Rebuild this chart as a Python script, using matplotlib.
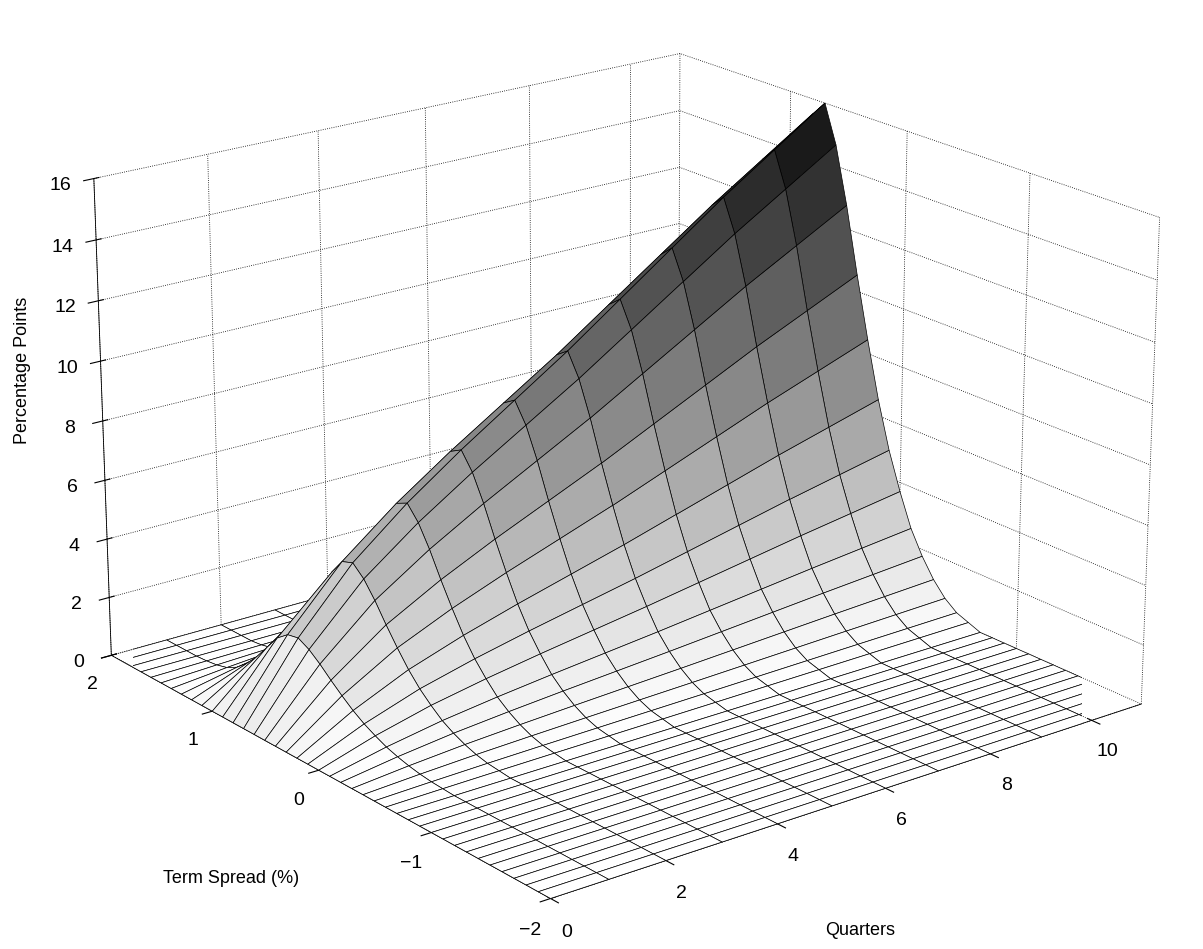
import numpy as np
import matplotlib
matplotlib.use("Agg")
import matplotlib.pyplot as plt

plt.rcParams['font.family'] = ['Liberation Sans', 'DejaVu Sans']

# axis grids
quarters = np.arange(0, 12)
spread = np.round(np.linspace(-2, 2, 41), 2)

# peak response (percentage points) by quarter, read from ridge
peak_by_quarter = [0, 2.5, 4.5, 6.0, 7.3, 8.5, 9.7, 11.0, 12.3, 13.6, 14.8, 16.0]

# relative shape across term spread (-2 .. 2, step 0.1)
spread_profile = ([0] * 14 +
                  [0.01, 0.02, 0.04, 0.07, 0.11, 0.16, 0.23, 0.31, 0.41, 0.53,
                   0.66, 0.80, 0.92, 1.00, 0.97, 0.85, 0.65, 0.45, 0.28, 0.15,
                   0.07, 0.03, 0.01] +
                  [0] * 4)

Q, S = np.meshgrid(quarters, spread)
Z = np.outer(spread_profile, peak_by_quarter)

fig = plt.figure(figsize=(12.03, 9.49), dpi=100)
ax = fig.add_axes([-0.015, 0.02, 1.04, 1.0], projection='3d')

ax.plot_surface(Q, S, Z, cmap='gray_r', vmin=0, vmax=16.5, rstride=1, cstride=1,
                edgecolor='k', linewidth=0.5, shade=False, antialiased=True)

ax.set_xlim(0, 11)
ax.set_ylim(-2, 2)
ax.set_zlim(0, 16)
ax.set_xticks([0, 2, 4, 6, 8, 10])
ax.set_yticks([-2, -1, 0, 1, 2])
ax.set_zticks(range(0, 17, 2))
ax.tick_params(labelsize=14)

for axis in (ax.xaxis, ax.yaxis, ax.zaxis):
    axis.set_pane_color((1, 1, 1, 0))
    axis._axinfo['grid'].update(linestyle=':', color='k', linewidth=0.6)
    axis.line.set_linewidth(0.6)

ax.set_box_aspect((1.5, 1.5, 1.03), zoom=1.2)
ax.view_init(elev=20, azim=-128)

fig.text(0.012, 0.61, 'Percentage Points', rotation=90, fontsize=13, va='center')
fig.text(0.192, 0.07, 'Term Spread (%)', fontsize=13, ha='center')
fig.text(0.715, 0.015, 'Quarters', fontsize=13, ha='center')

plt.savefig('out.png', dpi=100)
